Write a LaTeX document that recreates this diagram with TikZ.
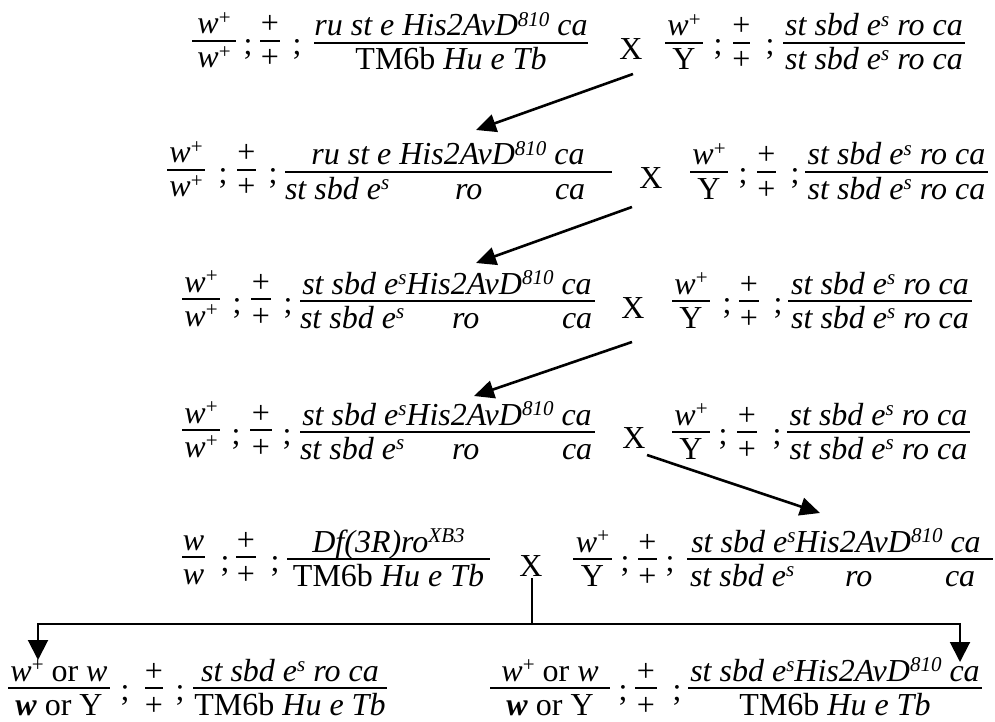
\documentclass[tikz,border=0pt]{standalone}
\usepackage{fontspec}
\setmainfont{Liberation Serif}
\usetikzlibrary{arrows.meta}
\newcommand\sps[1]{\raisebox{0.3em}{\fontsize{21bp}{22bp}\selectfont #1}}
\newcommand\I[1]{\textit{#1}}
\newcommand\Fr[6]{%
  \draw[bar] (#2,#4) -- (#3,#4);
  \path ({(#2+#3)/2},{#4-7}) node (#1n) {#5};
  \path ({(#2+#3)/2},{#4+27}) node (#1d) {#6};}
\newcommand\Sc[3]{\path (#2,{#3+12}) node (#1) {;};}
\newcommand\Wp{\I{w}\sps{+}}
\newcommand\Ssr{\I{st sbd e\sps{s} ro ca}}
\newcommand\Hisr{\I{st sbd e\sps{s}His2AvD\sps{810} ca}}
\newcommand\Ruh{\I{ru st e His2AvD\sps{810} ca}}
\newcommand\TMb{TM6b \I{Hu e Tb}}
\begin{document}
\begin{tikzpicture}[x=1bp,y=-1bp,
  every node/.style={inner sep=0pt, outer sep=0pt, anchor=base, font=\fontsize{32bp}{38bp}\selectfont},
  bar/.style={line width=2.2bp},
  conn/.style={line width=2.6bp, -{Triangle[length=20bp,width=18bp]}},
  tline/.style={line width=2bp}]
\useasboundingbox (0,0) rectangle (995,722);
% Row 1
\Fr{a1}{192}{236}{41}{\Wp}{\Wp}
\Sc{s1a}{248}{43}
\Fr{b1}{260}{280}{41}{+}{+}
\Sc{s1b}{297}{43}
\Fr{c1}{314}{588}{43}{\Ruh}{\TMb}
\node (x1) at (631,60) {X};
\Fr{d1}{665}{703}{43}{\Wp}{Y}
\Sc{s1c}{718}{43}
\Fr{e1}{733}{750}{43}{+}{+}
\Sc{s1d}{770}{43}
\Fr{f1}{783}{965}{43}{\Ssr}{\Ssr}
% Row 2
\Fr{a2}{167}{205}{170}{\Wp}{\Wp}
\Sc{s2a}{223}{172}
\Fr{b2}{237}{256}{170}{+}{+}
\Sc{s2b}{273}{172}
\draw[bar] (285,172) -- (612,172);
\node (c2n) at (448,165) {\Ruh};
\node[anchor=base west] (c2d1) at (285,199) {\I{st sbd e\sps{s}}};
\node[anchor=base west] (c2d2) at (455,199) {\I{ro}};
\node[anchor=base west] (c2d3) at (555,199) {\I{ca}};
\node (x2) at (651,189) {X};
\Fr{d2}{690}{728}{172}{\Wp}{Y}
\Sc{s2c}{743}{172}
\Fr{e2}{757}{776}{172}{+}{+}
\Sc{s2d}{795}{172}
\Fr{f2}{805}{988}{172}{\Ssr}{\Ssr}
% Row 3
\Fr{a3}{182}{220}{299}{\Wp}{\Wp}
\Sc{s3a}{237}{301}
\Fr{b3}{251}{271}{299}{+}{+}
\Sc{s3b}{288}{301}
\draw[bar] (300,301) -- (595,301);
\node (c3n) at (447,294) {\Hisr};
\node[anchor=base west] (c3d1) at (300,328) {\I{st sbd e\sps{s}}};
\node[anchor=base west] (c3d2) at (452,328) {\I{ro}};
\node[anchor=base west] (c3d3) at (562,328) {\I{ca}};
\node (x3) at (633,318) {X};
\Fr{d3}{672}{710}{301}{\Wp}{Y}
\Sc{s3c}{727}{301}
\Fr{e3}{739}{759}{301}{+}{+}
\Sc{s3d}{778}{301}
\Fr{f3}{788}{972}{301}{\Ssr}{\Ssr}
% Row 4
\Fr{a4}{182}{220}{430}{\Wp}{\Wp}
\Sc{s4a}{236}{432}
\Fr{b4}{250}{272}{430}{+}{+}
\Sc{s4b}{287}{432}
\draw[bar] (300,432) -- (595,432);
\node (c4n) at (447,425) {\Hisr};
\node[anchor=base west] (c4d1) at (300,459) {\I{st sbd e\sps{s}}};
\node[anchor=base west] (c4d2) at (452,459) {\I{ro}};
\node[anchor=base west] (c4d3) at (562,459) {\I{ca}};
\node (x4) at (634,448) {X};
\Fr{d4}{672}{710}{432}{\Wp}{Y}
\Sc{s4c}{723}{432}
\Fr{e4}{737}{757}{432}{+}{+}
\Sc{s4d}{777}{432}
\Fr{f4}{787}{970}{432}{\Ssr}{\Ssr}
% Row 5
\Fr{a5}{182}{205}{557}{\I{w}}{\I{w}}
\Sc{s5a}{225}{559}
\Fr{b5}{236}{256}{557}{+}{+}
\Sc{s5b}{275}{559}
\Fr{c5}{287}{490}{559}{\I{Df(3R)ro\sps{XB3}}}{\TMb}
\node (x5) at (531,576) {X};
\Fr{d5}{573}{612}{559}{\Wp}{Y}
\Sc{s5c}{625}{559}
\Fr{e5}{638}{657}{559}{+}{+}
\Sc{s5d}{670}{559}
\draw[bar] (687,559) -- (993,559);
\node (f5n) at (836,552) {\Hisr};
\node[anchor=base west] (f5d1) at (690,586) {\I{st sbd e\sps{s}}};
\node[anchor=base west] (f5d2) at (845,586) {\I{ro}};
\node[anchor=base west] (f5d3) at (945,586) {\I{ca}};
% Row 6
\Fr{a6}{8}{110}{688}{\Wp\ or \I{w}}{\textbf{\I{w}} or Y}
\Sc{s6a}{125}{688}
\Fr{b6}{145}{163}{688}{+}{+}
\Sc{s6b}{180}{688}
\Fr{c6}{193}{387}{688}{\Ssr}{\TMb}
\Fr{a7}{490}{610}{688}{\Wp\ or \I{w}}{\textbf{\I{w}} or Y}
\Sc{s7a}{623}{688}
\Fr{b7}{635}{657}{688}{+}{+}
\Sc{s7b}{677}{688}
\Fr{c7}{688}{982}{688}{\Hisr}{\TMb}
% Connectors
\coordinate (p1s) at (633,74);  \coordinate (p1e) at (476,130);
\coordinate (p2s) at (632,207); \coordinate (p2e) at (476,263);
\coordinate (p3s) at (632,342); \coordinate (p3e) at (474,396);
\coordinate (p4s) at (647,455); \coordinate (p4e) at (820,513);
\draw[conn] (p1s) -- (p1e);
\draw[conn] (p2s) -- (p2e);
\draw[conn] (p3s) -- (p3e);
\draw[conn] (p4s) -- (p4e);
\coordinate (t0) at (532,578); \coordinate (tj) at (532,624);
\coordinate (tl) at (38,624);  \coordinate (tr) at (960,624);
\coordinate (tle) at (38,660); \coordinate (tre) at (960,662);
\draw[tline] (t0) -- (tj);
\draw[tline,-{Triangle[length=20bp,width=20bp]}] (tj) -- (tl) -- (tle);
\draw[tline,-{Triangle[length=20bp,width=20bp]}] (tj) -- (tr) -- (tre);
\end{tikzpicture}
\end{document}
